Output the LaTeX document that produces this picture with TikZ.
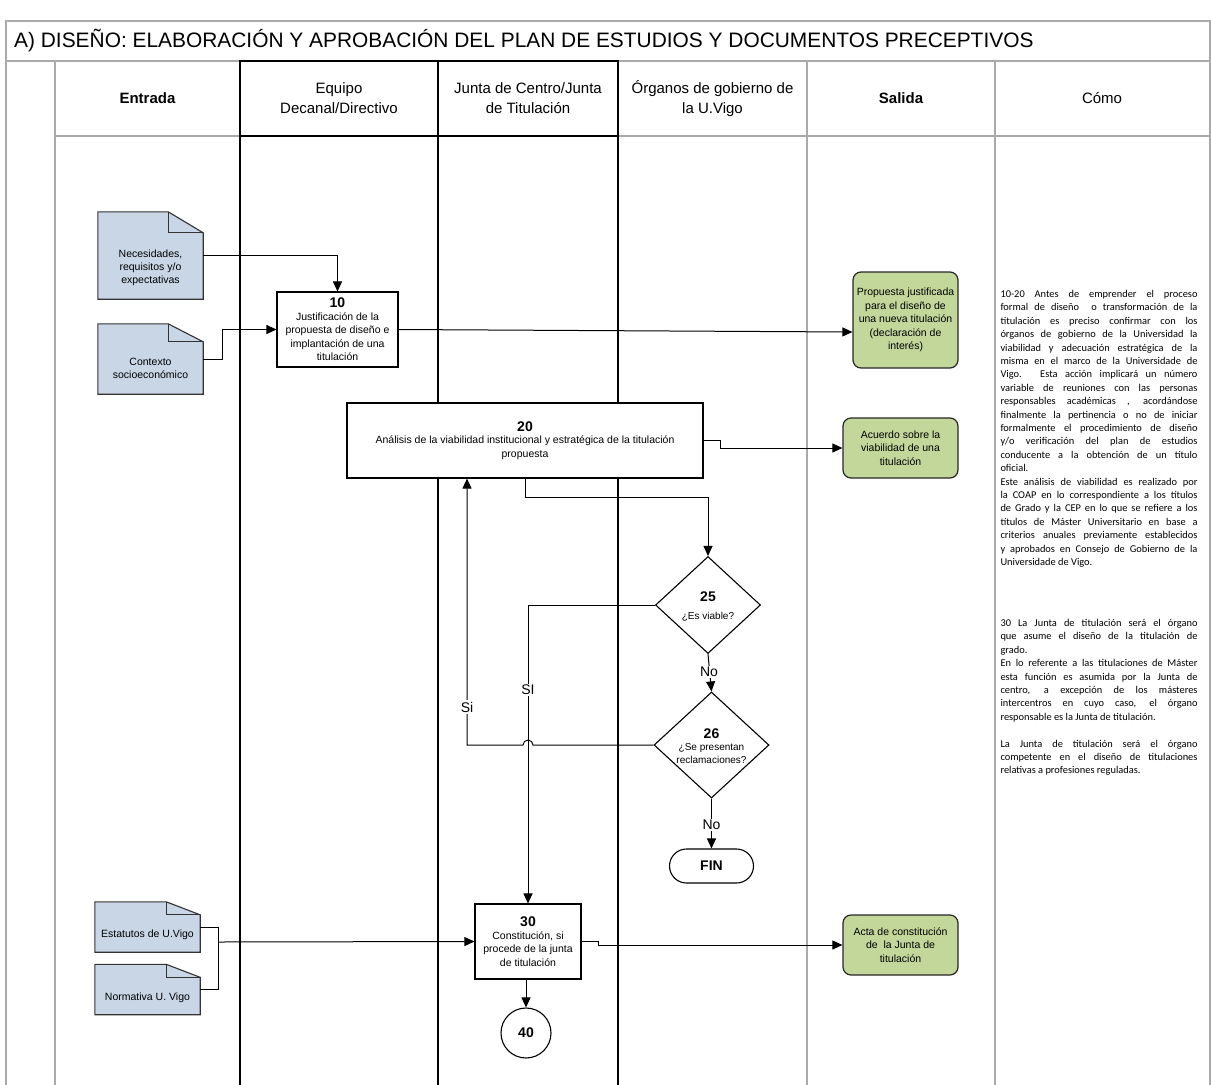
\documentclass[tikz,border=0pt]{standalone}
\usepackage{fontspec}
\setmainfont{Liberation Sans}
\newfontfamily\calib{Carlito}
\usetikzlibrary{arrows.meta,shapes.geometric,calc}
\definecolor{lanegray}{RGB}{170,170,170}
\definecolor{docblue}{RGB}{200,214,230}
\definecolor{outgreen}{RGB}{196,215,155}
\tikzset{
 grayln/.style={draw=lanegray,line width=1.5pt},
 blackln/.style={draw=black,line width=1.4pt},
 conn/.style={draw=black,line width=1pt},
 arr/.style={conn,-{Triangle[length=10pt,width=9pt]}},
 proc/.style={draw=black,line width=1.1pt,fill=white,inner sep=0pt,align=center,font=\fontsize{10.5}{13.5}\selectfont},
 outbox/.style={draw=black!85,line width=1.2pt,fill=outgreen,rounded corners=8pt,inner sep=0pt,align=center,font=\fontsize{10.5}{13.5}\selectfont},
 docbox/.style={inner sep=0pt,draw=none},
 doctext/.style={align=center,inner sep=0pt,font=\fontsize{10.5}{13}\selectfont},
 dia/.style={diamond,draw=black,line width=1.1pt,fill=white,inner sep=0pt,aspect=1},
 diatext/.style={align=center,inner sep=0pt,font=\fontsize{10}{13}\selectfont},
 lbl/.style={fill=white,inner sep=1.5pt,font=\fontsize{14}{16}\selectfont},
 hdr/.style={align=center,font=\fontsize{15}{20}\selectfont},
 note/.style={text width=197pt,align=justify,inner sep=0pt,anchor=north,font=\calib\fontsize{10.4}{13.4}\selectfont},
}
\newcommand\docshape[3]{%
 \draw[draw=black!80,line width=1.1pt,fill=docblue,line join=miter] (#1.north west) -- ([xshift=-#2]#1.north east) -- ([yshift=-#3]#1.north east) -- (#1.south east) -- (#1.south west) -- cycle;
 \draw[draw=black!80,line width=1.1pt] ([xshift=-#2]#1.north east) -- ([xshift=-#2,yshift=-#3]#1.north east) -- ([yshift=-#3]#1.north east);}
\newcommand\numtxt[1]{{\fontsize{14}{16}\selectfont\bfseries #1}}
\begin{document}
\begin{tikzpicture}[x=1pt,y=-1pt]
\useasboundingbox (0,0) rectangle (1211,1085);
% frame and lanes
\draw[grayln] (6,1085) -- (6,21) -- (1210,21) -- (1210,1085);
\draw[grayln] (6,61) -- (1210,61);
\draw[grayln] (55,136) -- (1210,136);
\draw[grayln] (55,61) -- (55,1085);
\draw[grayln] (807,61) -- (807,1085);
\draw[grayln] (995,61) -- (995,1085);
\draw[blackln] (240,1085) -- (240,61) -- (618,61) -- (618,1085);
\draw[blackln] (438,61) -- (438,1085);
\draw[blackln] (240,136) -- (618,136);
% title and headers
\node[anchor=base west,inner sep=0pt,font=\fontsize{20.9}{24}\selectfont] (title) at (14,47) {A) DISEÑO: ELABORACIÓN Y APROBACIÓN DEL PLAN DE ESTUDIOS Y DOCUMENTOS PRECEPTIVOS};
\node[hdr,font=\fontsize{15}{20}\selectfont\bfseries] (hEnt) at (147.5,98.5) {Entrada};
\node[hdr] (hEq) at (339,98.5) {Equipo\\Decanal/Directivo};
\node[hdr] (hJu) at (528,98.5) {Junta de Centro/Junta\\de Titulación};
\node[hdr] (hOr) at (712.5,98.5) {Órganos de gobierno de\\la U.Vigo};
\node[hdr,font=\fontsize{15}{20}\selectfont\bfseries] (hSa) at (901,98.5) {Salida};
\node[hdr] (hCo) at (1102,98.5) {Cómo};
% input documents
\node[docbox,minimum width=105pt,minimum height=87pt] (nec) at (150.5,255.5) {};
\docshape{nec}{35}{21}
\node[doctext] (necT) at ([yshift=-12pt]nec.center) {Necesidades,\\requisitos y/o\\expectativas};
\node[docbox,minimum width=105pt,minimum height=70pt] (ctx) at (150.5,359) {};
\docshape{ctx}{35}{18}
\node[doctext] (ctxT) at ([yshift=-9.5pt]ctx.center) {Contexto\\socioeconómico};
\node[docbox,minimum width=105pt,minimum height=50pt] (est) at (147.5,927) {};
\docshape{est}{34}{13}
\node[doctext] (estT) at ([yshift=-8pt]est.center) {Estatutos de U.Vigo};
\node[docbox,minimum width=105pt,minimum height=50pt] (nor) at (147.5,989.5) {};
\docshape{nor}{34}{13}
\node[doctext] (norT) at ([yshift=-8pt]nor.center) {Normativa U. Vigo};
% process nodes
\node[proc,minimum width=121pt,minimum height=75pt] (n10) at (337.5,329.5) {\numtxt{10}\\[-1pt]Justificación de la\\propuesta de diseño e\\implantación de una\\titulación};
\node[proc,minimum width=356pt,minimum height=75pt] (n20) at (525,440.5) {\numtxt{20}\\[-1pt]Análisis de la viabilidad institucional y estratégica de la titulación\\propuesta};
\node[proc,minimum width=106pt,minimum height=75pt] (n30) at (528,941.5) {\numtxt{30}\\[-1pt]Constitución, si\\procede de la junta\\de titulación};
% outputs
\node[outbox,minimum width=105pt,minimum height=96pt] (prop) at (905.5,320) {Propuesta justificada\\para el diseño de\\una nueva titulación\\(declaración de\\interés)};
\node[outbox,minimum width=115pt,minimum height=60pt] (acu) at (900.5,448) {Acuerdo sobre la\\viabilidad de una\\titulación};
\node[outbox,minimum width=115pt,minimum height=60pt] (acta) at (900.5,945) {Acta de constitución\\de\ \ la Junta de\\titulación};
% decisions
\node[dia,minimum width=105pt,minimum height=97pt] (d25) at (708,605) {};
\node[diatext] (d25T) at (708,606) {\numtxt{25}\\[5pt]¿Es viable?};
\node[dia,minimum width=115pt,minimum height=106pt] (d26) at (711.5,745) {};
\node[diatext] (d26T) at (711.5,746) {\numtxt{26}\\[-1pt]¿Se presentan\\reclamaciones?};
\node[draw=black,line width=1.1pt,fill=white,rounded corners=17pt,minimum width=84pt,minimum height=34pt,inner sep=0pt,font=\fontsize{14}{16}\selectfont\bfseries] (fin) at (711.5,866) {FIN};
\node[circle,draw=black,line width=1.1pt,fill=white,minimum size=50pt,inner sep=0pt,font=\fontsize{14}{16}\selectfont\bfseries] (c40) at (526,1033) {40};
% connectors
\draw[arr] (nec.east) -| (n10.north);
\draw[arr] (ctx.east) -- ++(19,0) |- (n10.west);
\draw[arr] (n10.east) -- ([yshift=-12pt]prop.west);
\draw[arr] (n20.east) -- ++(17,0) |- (acu.west);
\draw[arr] (n20.south) -- ++(0,19) -| (d25.north);
\draw[arr] (d25.west) -| (n30.north);
\coordinate (siTurn) at (467,745);
\draw[arr] (d26.west) -- (533,745) arc[start angle=0,end angle=180,radius=5pt] -- (siTurn) -- (siTurn |- n20.south);
\draw[arr] (d25.south) -- (d26.north);
\draw[arr] (d26.south) -- (fin.north);
\coordinate (jn) at (218,942);
\draw[conn] (est.east) -| (jn);
\draw[conn] (nor.east) -| (jn);
\draw[arr] (jn) -- (n30.west);
\draw[arr] (n30.east) -- ++(17,0) |- (acta.west);
\draw[arr] (n30.south -| c40.north) -- (c40.north);
% labels
\node[lbl] (lSI) at (528,690) {SI};
\node[lbl] (lSi) at (467,707) {Si};
\node[lbl] (lNo1) at (709,672) {No};
\node[lbl] (lNo2) at (711.5,825) {No};
% notes
\node[note] (note1) at (1099,290) {10-20 Antes de emprender el proceso\linebreak
formal de diseño\ \ o transformación de la\linebreak
titulación es preciso confirmar con los\linebreak
órganos de gobierno de la Universidad la\linebreak
viabilidad y adecuación estratégica de la\linebreak
misma en el marco de la Universidade de\linebreak
Vigo. Esta acción implicará un número\linebreak
variable de reuniones con las personas\linebreak
responsables académicas , acordándose\linebreak
finalmente la pertinencia o no de iniciar\linebreak
formalmente el procedimiento de diseño\linebreak
y/o verificación del plan de estudios\linebreak
conducente a la obtención de un título\linebreak
oficial.\par
Este análisis de viabilidad es realizado por\linebreak
la COAP en lo correspondiente a los títulos\linebreak
de Grado y la CEP en lo que se refiere a los\linebreak
títulos de Máster Universitario en base a\linebreak
criterios anuales previamente establecidos\linebreak
y aprobados en Consejo de Gobierno de la\linebreak
Universidade de Vigo.};
\node[note] (note2) at (1099,619) {30 La Junta de titulación será el órgano\linebreak
que asume el diseño de la titulación de\linebreak
grado.\par
En lo referente a las titulaciones de Máster\linebreak
esta función es asumida por la Junta de\linebreak
centro, a excepción de los másteres\linebreak
intercentros en cuyo caso, el órgano\linebreak
responsable es la Junta de titulación.\par
\vspace{13.4pt}La Junta de titulación será el órgano\linebreak
competente en el diseño de titulaciones\linebreak
relativas a profesiones reguladas.};
\end{tikzpicture}
\end{document}
